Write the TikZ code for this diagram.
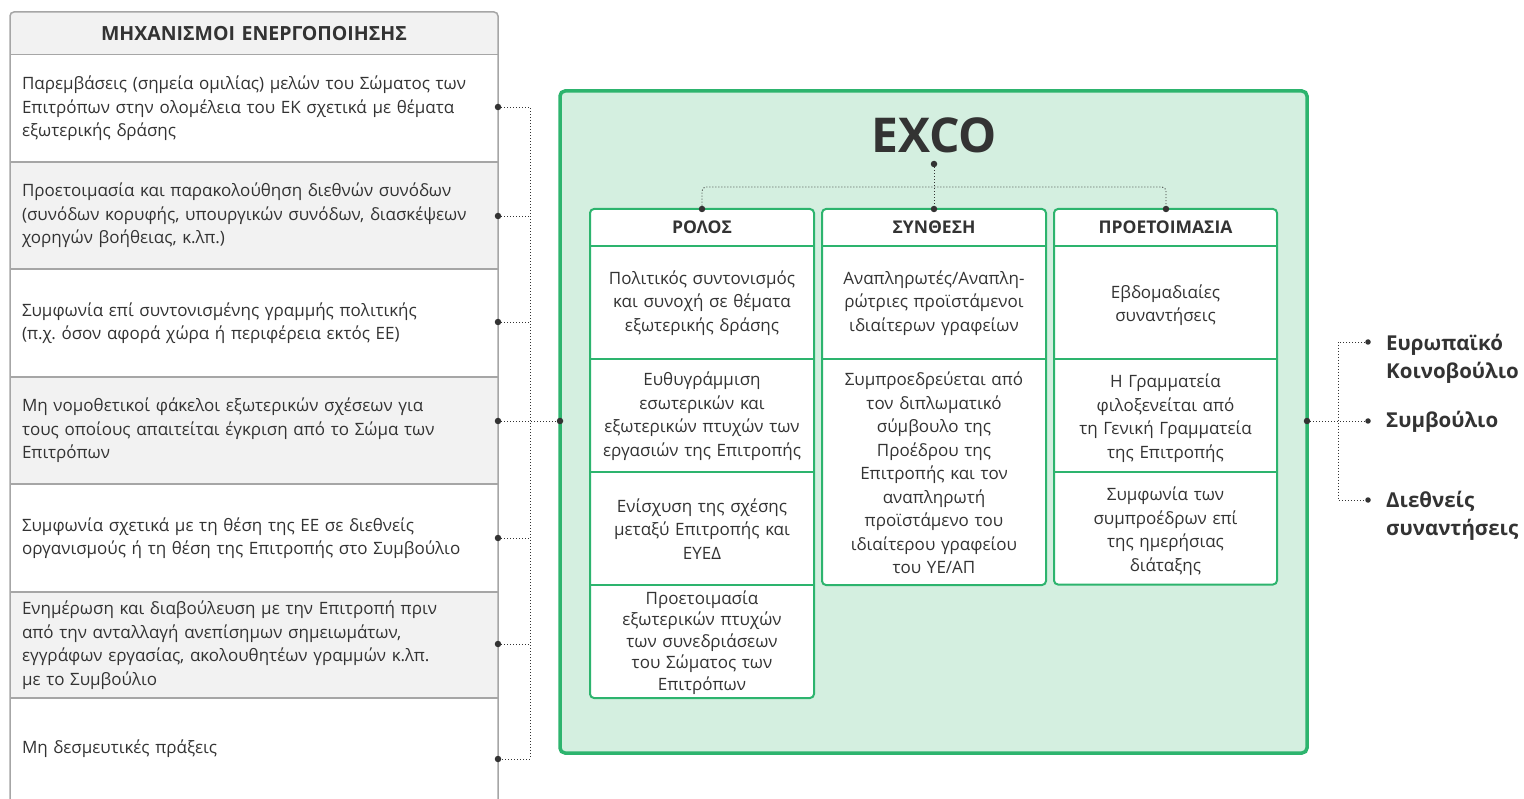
\documentclass[tikz,border=0pt]{standalone}
\usepackage{fontspec}
\setmainfont{Open Sans}
\frenchspacing
\definecolor{txt}{HTML}{333333}
\definecolor{gbord}{HTML}{2DB46E}
\definecolor{gfill}{HTML}{D4EFE0}
\definecolor{lgray}{HTML}{F2F2F2}
\definecolor{pgray}{HTML}{A6A6A6}
\tikzset{
  lrow/.style={minimum width=488pt, inner xsep=12pt, inner ysep=0pt, text width=464pt, align=left,
    font=\fontsize{17}{23.5}\selectfont, text=txt},
  lhead/.style={lrow, align=center, font=\bfseries\fontsize{19.5}{20}\selectfont},
  cell/.style={minimum width=223pt, inner xsep=4pt, inner ysep=0pt, text width=215pt, align=center,
    font=\fontsize{17}{23.5}\selectfont, text=txt},
  colhead/.style={cell, font=\bfseries\fontsize{17.5}{18}\selectfont, minimum height=37pt},
  colframe/.style={draw=gbord, fill=white, line width=2pt, rounded corners=4pt},
  gsep/.style={draw=gbord, line width=2pt},
  psep/.style={draw=pgray, line width=1.5pt},
  dot/.style={circle, fill=txt, inner sep=0pt, minimum size=6.5pt},
  dotline/.style={draw=txt, line width=0.9pt, dash pattern=on 1pt off 2pt},
  rlabel/.style={font=\bfseries\fontsize{20.5}{28}\selectfont, text=txt, align=left, anchor=west, inner sep=0pt}
}
\begin{document}
\begin{tikzpicture}[x=1pt,y=-1pt]
\useasboundingbox (0,0) rectangle (1524,799);
\fill[white] (0,0) rectangle (1524,799);

% ---------- left panel ----------
\node[lhead, fill=lgray, minimum height=42.5pt] (lh) at (254,33.25) {ΜΗΧΑΝΙΣΜΟΙ ΕΝΕΡΓΟΠΟΙΗΣΗΣ};
\node[lrow, fill=white, minimum height=107.5pt] (r1) at (254,108.25)
  {Παρεμβάσεις (σημεία ομιλίας) μελών του Σώματος των\\Επιτρόπων στην ολομέλεια του ΕΚ σχετικά με θέματα\\εξωτερικής δράσης};
\node[lrow, fill=lgray, minimum height=107pt] (r2) at (254,215.5)
  {Προετοιμασία και παρακολούθηση διεθνών συνόδων\\(συνόδων κορυφής, υπουργικών συνόδων, διασκέψεων\\χορηγών βοήθειας, κ.λπ.)};
\node[lrow, fill=white, minimum height=108pt] (r3) at (254,323)
  {Συμφωνία επί συντονισμένης γραμμής πολιτικής\\(π.χ. όσον αφορά χώρα ή περιφέρεια εκτός ΕΕ)};
\node[lrow, fill=lgray, minimum height=107pt] (r4) at (254,430.5)
  {Μη νομοθετικοί φάκελοι εξωτερικών σχέσεων για\\τους οποίους απαιτείται έγκριση από το Σώμα των\\Επιτρόπων};
\node[lrow, fill=white, minimum height=108pt] (r5) at (254,538)
  {Συμφωνία σχετικά με τη θέση της ΕΕ σε διεθνείς\\οργανισμούς ή τη θέση της Επιτροπής στο Συμβούλιο};
\node[lrow, fill=lgray, minimum height=106pt] (r6) at (254,645)
  {Ενημέρωση και διαβούλευση με την Επιτροπή πριν\\από την ανταλλαγή ανεπίσημων σημειωμάτων,\\εγγράφων εργασίας, ακολουθητέων γραμμών κ.λπ.\\με το Συμβούλιο};
\node[lrow, fill=white, minimum height=102pt] (r7) at (254,749)
  {Μη δεσμευτικές πράξεις};
\foreach \y in {54.5,162,269,377,484,592,698} \draw[psep] (10,\y) -- (498,\y);
\draw[psep, rounded corners=4pt] (10,805) -- (10,12) -- (498,12) -- (498,805);

% ---------- green box ----------
\draw[draw=gbord, fill=gfill, line width=3.5pt, rounded corners=5pt] (560,91) rectangle (1307,753);
\node[font=\bfseries\fontsize{48}{48}\selectfont, text=txt, inner sep=0pt] (exco) at (934,135) {EXCO};

% column frames
\draw[colframe] (590,209) rectangle (814,698);
\draw[colframe] (822,209) rectangle (1046,585);
\draw[colframe] (1054,209) rectangle (1277,584.5);

% ROLOS
\node[colhead] (rolh) at (702,227.5) {ΡΟΛΟΣ};
\node[cell, minimum height=113.5pt] (rol1) at (702,302.75) {Πολιτικός συντονισμός\\και συνοχή σε θέματα\\εξωτερικής δράσης};
\node[cell, minimum height=113pt] (rol2) at (702,416) {Ευθυγράμμιση\\εσωτερικών και\\εξωτερικών πτυχών των\\εργασιών της Επιτροπής};
\node[cell, minimum height=112.5pt] (rol3) at (702,528.75) {Ενίσχυση της σχέσης\\μεταξύ Επιτροπής και\\ΕΥΕΔ};
\node[cell, minimum height=113pt, font=\fontsize{17}{21.5}\selectfont] (rol4) at (702,642.5) {Προετοιμασία\\εξωτερικών πτυχών\\των συνεδριάσεων\\του Σώματος των\\Επιτρόπων};
% SYNTHESI
\node[colhead] (synh) at (934,227.5) {ΣΥΝΘΕΣΗ};
\node[cell, minimum height=113.5pt] (syn1) at (934,302.75) {Αναπληρωτές/Αναπλη-\\ρώτριες προϊστάμενοι\\ιδιαίτερων γραφείων};
\node[cell, minimum height=225.5pt] (syn2) at (934,473) {Συμπροεδρεύεται από\\τον διπλωματικό\\σύμβουλο της\\Προέδρου της\\Επιτροπής και τον\\αναπληρωτή\\προϊστάμενο του\\ιδιαίτερου γραφείου\\του ΥΕ/ΑΠ};
% PROETOIMASIA
\node[colhead] (proh) at (1165.5,227.5) {ΠΡΟΕΤΟΙΜΑΣΙΑ};
\node[cell, minimum height=113.5pt] (pro1) at (1165.5,305) {Εβδομαδιαίες\\συναντήσεις};
\node[cell, minimum height=113pt] (pro2) at (1165.5,418) {Η Γραμματεία\\φιλοξενείται από\\τη Γενική Γραμματεία\\της Επιτροπής};
\node[cell, minimum height=112pt] (pro3) at (1165.5,531) {Συμφωνία των\\συμπροέδρων επί\\της ημερήσιας\\διάταξης};

% separators
\draw[gsep] (590,246) -- (814,246);
\draw[gsep] (590,359.5) -- (814,359.5);
\draw[gsep] (590,472.5) -- (814,472.5);
\draw[gsep] (590,585) -- (814,585);
\draw[gsep] (822,246) -- (1046,246);
\draw[gsep] (822,359.5) -- (1046,359.5);
\draw[gsep] (1054,246) -- (1277,246);
\draw[gsep] (1054,359.5) -- (1277,359.5);
\draw[gsep] (1054,472.5) -- (1277,472.5);

% EXCO connectors
\node[dot] (xd) at (934,164) {};
\node[dot] (t1) at (702,209) {};
\node[dot] (t2) at (934,209) {};
\node[dot] (t3) at (1166,209) {};
\coordinate (bus) at (934,187);
\draw[dotline] (xd) -- (t2);
\draw[dotline, rounded corners=4pt] (t1) |- (bus) -| (t3);

% ---------- left connectors ----------
\node[dot] (d1) at (498,107) {};
\node[dot] (d2) at (498,216) {};
\node[dot] (d3) at (498,322) {};
\node[dot] (d4) at (498,421) {};
\node[dot] (d5) at (498,538) {};
\node[dot] (d6) at (498,644) {};
\node[dot] (d7) at (498,759) {};
\node[dot] (gl) at (560,421) {};
\coordinate (lb1) at (530,107);
\coordinate (lb2) at (530,216);
\coordinate (lb3) at (530,322);
\coordinate (lb5) at (530,538);
\coordinate (lb6) at (530,644);
\coordinate (lb7) at (530,759);
\draw[dotline] (d1) -- (lb1) -- (lb7) -- (d7);
\draw[dotline] (d2) -- (lb2);
\draw[dotline] (d3) -- (lb3);
\draw[dotline] (d5) -- (lb5);
\draw[dotline] (d6) -- (lb6);
\draw[dotline] (d4) -- (gl);

% ---------- right connectors ----------
\node[dot] (gr) at (1307,421) {};
\node[dot, minimum size=5.5pt] (e1) at (1368,342) {};
\node[dot, minimum size=5.5pt] (e2) at (1368,421) {};
\node[dot, minimum size=5.5pt] (e3) at (1368,500) {};
\coordinate (rt) at (1338,342);
\coordinate (rbt) at (1338,500);
\draw[dotline] (gr) -- (e2);
\draw[dotline] (e1) -- (rt) -- (rbt) -- (e3);
\node[rlabel] (lab1) at (1386,359) {Ευρωπαϊκό\\Κοινοβούλιο};
\node[rlabel] (lab2) at (1386,422) {Συμβούλιο};
\node[rlabel] (lab3) at (1386,516) {Διεθνείς\\συναντήσεις};
\end{tikzpicture}
\end{document}
